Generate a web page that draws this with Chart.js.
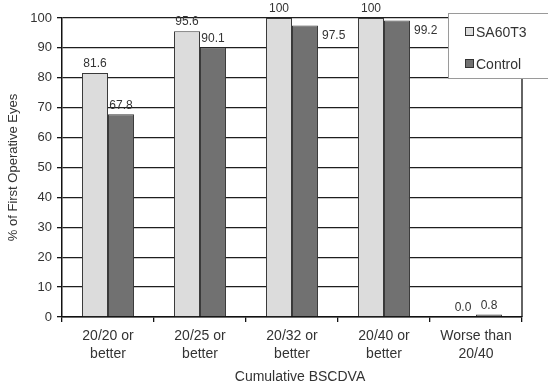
<!DOCTYPE html>
<html>
<head>
<meta charset="utf-8">
<script src="https://cdn.jsdelivr.net/npm/chart.js@4/dist/chart.umd.min.js"></script>
<style>
  html, body { margin: 0; padding: 0; background: #fff; }
  #wrap { width: 548px; height: 386px; position: relative; }
</style>
</head>
<body>
<div id="wrap"><canvas id="c" width="548" height="386"></canvas></div>
<script>
// Cumulative best spectacle-corrected distance visual acuity
const categories = [
  ['20/20 or', 'better'],
  ['20/25 or', 'better'],
  ['20/32 or', 'better'],
  ['20/40 or', 'better'],
  ['Worse than', '20/40']
];
const seriesNames = ['SA60T3', 'Control'];
const sa60t3Values = [81.6, 95.6, 100, 100, 0.0];
const controlValues = [67.8, 90.1, 97.5, 99.2, 0.8];
const yTicks = [0, 10, 20, 30, 40, 50, 60, 70, 80, 90, 100];
const xTitle = 'Cumulative BSCDVA';

const FONT = 'Liberation Sans, Arial, sans-serif';
const TEXT = '#333333';

// Value labels above each bar; a Control label that would run past the top
// of the plot is set beside its bar instead.
const valueLabels = {
  id: 'valueLabels',
  afterDatasetsDraw(chart) {
    const ctx = chart.ctx;
    const top = chart.chartArea.top;
    ctx.save();
    ctx.font = '12px ' + FONT;
    ctx.fillStyle = TEXT;
    chart.data.datasets.forEach((ds, di) => {
      const meta = chart.getDatasetMeta(di);
      meta.data.forEach((bar, i) => {
        const v = ds.data[i];
        const label = (v === 100) ? '100' : v.toFixed(1);
        if (di === 1 && bar.y - 16 < top) {
          ctx.textAlign = 'left';
          ctx.textBaseline = 'middle';
          ctx.fillText(label, bar.x + bar.width / 2 + 4, bar.y + 10);
        } else {
          ctx.textAlign = 'center';
          ctx.textBaseline = 'bottom';
          ctx.fillText(label, bar.x, bar.y - 3);
        }
      });
    });
    ctx.restore();
  }
};

// Right edge of the plot frame and the x-axis title
const plotFrame = {
  id: 'plotFrame',
  beforeDatasetsDraw(chart) {
    const { ctx, chartArea } = chart;
    ctx.save();
    ctx.strokeStyle = '#111';
    ctx.lineWidth = 1.3;
    ctx.beginPath();
    ctx.moveTo(chartArea.right, chartArea.top);
    ctx.lineTo(chartArea.right, chartArea.bottom);
    ctx.stroke();
    ctx.font = '14px ' + FONT;
    ctx.fillStyle = TEXT;
    ctx.textAlign = 'center';
    ctx.textBaseline = 'middle';
    ctx.fillText(xTitle, (chartArea.left + chartArea.right) / 2 + 8, chart.height - 9);
    ctx.restore();
  }
};

// Boxed legend sitting over the top-right corner of the plot
const boxLegend = {
  id: 'boxLegend',
  afterDraw(chart) {
    const ctx = chart.ctx;
    const x = 448, y = 13, w = 106, h = 65;
    ctx.save();
    ctx.fillStyle = '#fff';
    ctx.fillRect(x, y, w, h);
    ctx.strokeStyle = '#9a9a9a';
    ctx.lineWidth = 1;
    ctx.strokeRect(x + 0.5, y + 0.5, w, h);
    ctx.font = '14px ' + FONT;
    ctx.textBaseline = 'middle';
    ctx.textAlign = 'left';
    chart.data.datasets.forEach((ds, i) => {
      const cy = y + 19 + i * 32;
      ctx.fillStyle = ds.backgroundColor;
      ctx.fillRect(465, cy - 5, 9, 9);
      ctx.strokeStyle = '#333';
      ctx.strokeRect(465.5, cy - 4.5, 8, 8);
      ctx.fillStyle = TEXT;
      ctx.fillText(ds.label, 476, cy + 1);
    });
    ctx.restore();
  }
};

new Chart(document.getElementById('c'), {
  type: 'bar',
  data: {
    labels: categories,
    datasets: [
      {
        label: seriesNames[0],
        data: sa60t3Values,
        backgroundColor: '#dcdcdc',
        borderColor: '#3a3a3a',
        borderWidth: 1
      },
      {
        label: seriesNames[1],
        data: controlValues,
        backgroundColor: '#717171',
        borderColor: '#3a3a3a',
        borderWidth: 1
      }
    ]
  },
  options: {
    responsive: false,
    animation: false,
    devicePixelRatio: 1,
    categoryPercentage: 0.565,
    barPercentage: 1,
    layout: { padding: { top: 18, right: 26, left: 0, bottom: 0 } },
    plugins: {
      legend: { display: false },
      tooltip: { enabled: false }
    },
    scales: {
      x: {
        afterFit(s) { s.height = 69; },
        grid: {
          display: true,
          drawOnChartArea: false,
          drawTicks: true,
          tickLength: 5,
          tickColor: '#111',
          lineWidth: 1.3,
          offset: true
        },
        border: { display: true, color: '#111', width: 1.5 },
        ticks: {
          color: TEXT,
          font: { family: FONT, size: 14, lineHeight: 1.3 },
          padding: 5,
          maxRotation: 0,
          autoSkip: false
        },
        title: { display: false }
      },
      y: {
        min: 0,
        max: 100,
        afterFit(s) { s.width = 62; },
        afterBuildTicks(s) { s.ticks = yTicks.map(v => ({ value: v })); },
        grid: {
          color: '#1e1e1e',
          lineWidth: 1.3,
          drawTicks: true,
          tickLength: 5,
          tickColor: '#111'
        },
        border: { display: true, color: '#111', width: 1.5 },
        ticks: {
          color: TEXT,
          font: { family: FONT, size: 13 },
          padding: 5
        },
        title: {
          display: true,
          text: '% of First Operative Eyes',
          color: TEXT,
          font: { family: FONT, size: 13 },
          padding: { top: 6, bottom: 0 }
        }
      }
    }
  },
  plugins: [plotFrame, valueLabels, boxLegend]
});
</script>
</body>
</html>
